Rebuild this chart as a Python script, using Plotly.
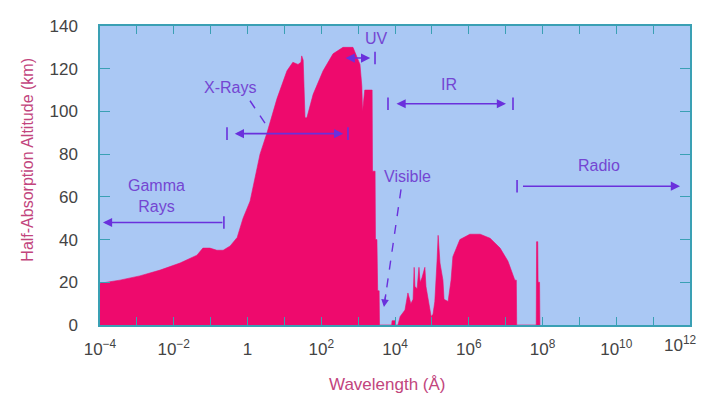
import plotly.graph_objects as go

# ---- data: half-absorption altitude vs wavelength (log10 of Angstrom) ----
log_wavelength = [
    -4.00, -3.46, -2.92, -2.37, -1.83, -1.37, -1.21, -1.02, -0.83, -0.66,
    -0.47, -0.28, -0.12, 0.07, 0.34, 0.53, 0.80, 1.07, 1.23, 1.37,
    1.45, 1.47, 1.51, 1.56, 1.61, 1.78, 2.05, 2.32, 2.59, 2.86,
    3.05, 3.10, 3.12, 3.18, 3.38, 3.39, 3.46, 3.47, 3.51, 3.53,
    3.57, 3.58, 3.91, 3.92, 4.00, 4.01, 4.08, 4.14, 4.27, 4.35,
    4.43, 4.49, 4.52, 4.54, 4.60, 4.65, 4.68, 4.73, 4.81, 4.84,
    4.89, 4.98, 5.03, 5.08, 5.14, 5.17, 5.22, 5.30, 5.33, 5.44,
    5.52, 5.57, 5.76, 6.03, 6.31, 6.58, 6.85, 7.06, 7.25, 7.29,
    7.30, 7.83, 7.84, 7.87, 7.88, 7.92, 7.93,
]
altitude_km = [
    19.5, 21, 23, 25.7, 29, 32.7, 36, 36, 35, 35,
    37, 41, 50, 58, 80, 90, 106, 119, 123, 122,
    123, 126, 124, 97, 97, 108, 119, 127, 130, 130,
    122, 112, 100, 110, 110, 72, 72, 40, 40, 16,
    16, 0, 0, 2, 2, 0, 0, 4, 7, 15,
    10, 12, 27, 18, 17, 27, 20, 22, 27, 18,
    13, 4, 5, 11, 30, 42, 29, 21, 12, 11,
    21, 32, 40, 42.5, 42.5, 40.6, 36, 30, 21, 21,
    0, 0, 39, 39, 20, 20, 0,
]

# spectral bands (log10 wavelength of range markers, altitude of marker)
band_names = ["Gamma<br>Rays", "X-Rays", "UV", "IR", "Radio"]
band_lo = [-3.92, -0.556, 2.62, 3.81, 7.31]
band_hi = [-0.64, 2.725, 3.458, 7.20, 11.73]
band_alt = [48, 89.6, 125, 103.6, 65]

x_exponents = list(range(-4, 13))
y_ticks = [0, 20, 40, 60, 80, 100, 120, 140]

wavelength = [10 ** v for v in log_wavelength]

FILL = "#ee0a6d"
BG = "#aac8f4"
AXIS = "#3aa0b4"
TXT = "#7446d2"
ARROW = "#6a30dc"
TITLE = "#c2457d"
FONT = "Liberation Sans, Arial, sans-serif"

fig = go.Figure()
fig.add_trace(go.Scatter(
    x=wavelength, y=altitude_km, mode="lines", fill="tozeroy",
    line=dict(color=FILL, width=0.6), fillcolor=FILL, hoverinfo="skip",
    showlegend=False,
))

# end-marker bars for band ranges
tick_x, tick_y = [], []
for i, name in enumerate(band_names):
    if name in ("Gamma<br>Rays", "UV"):
        ends = [band_hi[i]]
    elif name == "Radio":
        ends = [band_lo[i]]
    else:
        ends = [band_lo[i], band_hi[i]]
    for e in ends:
        tick_x.append(10 ** e)
        tick_y.append(band_alt[i])
fig.add_trace(go.Scatter(
    x=tick_x, y=tick_y, mode="markers",
    marker=dict(symbol="line-ns-open", size=9, color=ARROW,
                line=dict(color=ARROW, width=1.6)),
    hoverinfo="skip", showlegend=False,
))

annotations = []
# band arrows
arrow_specs = {
    "Gamma<br>Rays": (band_hi[0], band_lo[0], False),
    "X-Rays": (band_lo[1] + 0.17, band_hi[1] - 0.13, True),
    "UV": (band_lo[2], band_hi[2] - 0.13, True),
    "IR": (band_lo[3] + 0.19, band_hi[3] - 0.19, True),
    "Radio": (band_lo[4] + 0.12, band_hi[4], False),
}
for i, name in enumerate(band_names):
    a, b, both = arrow_specs[name]
    annotations.append(dict(
        x=b, y=band_alt[i], ax=a, ay=band_alt[i], xref="x", yref="y",
        axref="x", ayref="y", text="", showarrow=True,
        arrowhead=2, startarrowhead=2, arrowside="end+start" if both else "end",
        arrowsize=1.15, arrowwidth=1.6, arrowcolor=ARROW,
    ))

# band labels
label_pos = {
    "Gamma<br>Rays": (-2.455, 60.5),
    "X-Rays": (-0.475, 111),
    "UV": (3.485, 134),
    "IR": (5.46, 112.5),
    "Radio": (9.53, 74.7),
}
for name in band_names:
    lx, ly = label_pos[name]
    annotations.append(dict(x=lx, y=ly, xref="x", yref="y", text=name,
                            showarrow=False, font=dict(family=FONT, size=16, color=TXT)))
annotations.append(dict(x=4.33, y=69.5, xref="x", yref="y", text="Visible",
                        showarrow=False, font=dict(family=FONT, size=16, color=TXT)))

# pointer arrows (dashed shafts + heads)
pointers = [((0.068, 105), (0.50, 93.8)), ((4.163, 63.5), (3.70, 8.4))]
for (x0, y0), (x1, y1) in pointers:
    fig.add_trace(go.Scatter(
        x=[10 ** x0, 10 ** x1], y=[y0, y1], mode="lines",
        line=dict(color=ARROW, width=1.4, dash="dash"),
        hoverinfo="skip", showlegend=False,
    ))
    annotations.append(dict(
        x=x1, y=y1, ax=x1 + (x0 - x1) * 0.12, ay=y1 + (y0 - y1) * 0.12,
        xref="x", yref="y", axref="x", ayref="y", text="", showarrow=True,
        arrowhead=2, arrowsize=1.1, arrowwidth=1.4, arrowcolor=ARROW,
    ))

# axis titles
annotations.append(dict(x=-0.122, y=0.553, xref="paper", yref="paper",
                        xanchor="center", yanchor="middle",
                        text="Half-Absorption Altitude (km)", textangle=-90,
                        showarrow=False, font=dict(family=FONT, size=16, color=TITLE)))
annotations.append(dict(x=0.488, y=-0.2, xref="paper", yref="paper",
                        xanchor="center", yanchor="middle",
                        text="Wavelength (Å)", showarrow=False,
                        font=dict(family=FONT, size=17, color=TITLE)))

x_tickvals = [10 ** e for e in x_exponents]
x_ticktext = []
last_label = ""
for e in x_exponents:
    if e % 2:
        lab = ""
    elif e == 0:
        lab = "1"
    else:
        lab = "10<sup>%s</sup>" % ("−%d" % -e if e < 0 else str(e))
    if e == x_exponents[-1]:
        last_label = lab
        lab = ""
    x_ticktext.append(lab)

# the last tick label sits at the right edge; drawn as an annotation so it is
# nudged left rather than clipped
annotations.append(dict(x=x_exponents[-1], y=0, xref="x", yref="paper",
                        xanchor="center", yanchor="top", xshift=-10, yshift=-6,
                        text=last_label, showarrow=False,
                        font=dict(family=FONT, size=17, color="#444")))

# page body has an 8px margin: size/margins chosen so the plot area lands
# at x 100..690, y 26..325 in the 705x399 window
fig.update_layout(
    width=697, height=391,
    margin=dict(l=92, r=15, t=18, b=74, autoexpand=False),
    paper_bgcolor="white", plot_bgcolor=BG,
    annotations=annotations,
    xaxis=dict(
        type="log", range=[-4, 12], tickmode="array", tickvals=x_tickvals,
        ticktext=x_ticktext, ticks="inside", ticklen=8, tickwidth=1.3,
        tickcolor=AXIS, showline=True, linecolor=AXIS, linewidth=1.5,
        mirror="ticks", showgrid=False, zeroline=False, automargin=False,
        tickfont=dict(family=FONT, size=17, color="#444"), ticklabelstandoff=8,
    ),
    yaxis=dict(
        range=[0, 140], tickmode="array", tickvals=y_ticks, ticks="inside",
        ticklen=10, tickwidth=1.3, tickcolor=AXIS, showline=True,
        linecolor=AXIS, linewidth=1.5, mirror="ticks", showgrid=False,
        zeroline=False, automargin=False,
        tickfont=dict(family=FONT, size=17, color="#444"),
        ticklabelstandoff=17,
    ),
)

fig.write_html("out.html")
